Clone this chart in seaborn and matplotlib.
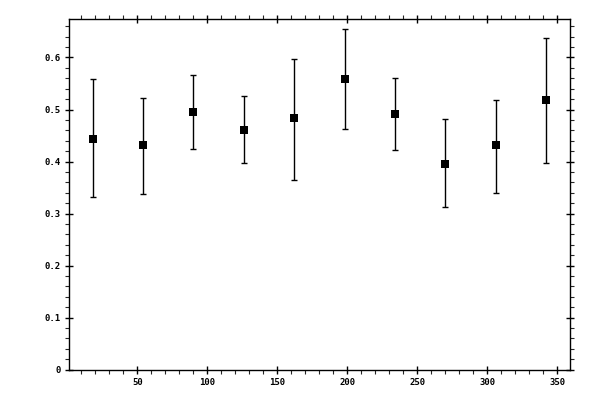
import numpy as np
import pandas as pd
import seaborn as sns
import matplotlib
matplotlib.use("Agg")
import matplotlib.pyplot as plt
from matplotlib.ticker import MultipleLocator

# values
x_pos = [18, 54, 90, 126, 162, 198, 234, 270, 306, 342]
y_mean = [0.444, 0.431, 0.496, 0.461, 0.483, 0.558, 0.492, 0.396, 0.431, 0.519]
y_upper = [0.559, 0.522, 0.567, 0.525, 0.598, 0.655, 0.560, 0.481, 0.519, 0.638]
y_lower = [0.331, 0.337, 0.425, 0.398, 0.365, 0.462, 0.423, 0.312, 0.340, 0.398]

df = pd.DataFrame({"x": x_pos, "y": y_mean, "hi": y_upper, "lo": y_lower})

sns.set_style("ticks")
plt.rcParams["font.family"] = ["DejaVu Sans Mono", "DejaVu Sans"]

fig = plt.figure(figsize=(6, 4), dpi=100)
ax = fig.add_axes([0.1158, 0.0758, 0.8342, 0.8755])

yerr = np.array([df["y"] - df["lo"], df["hi"] - df["y"]])
ax.errorbar(df["x"], df["y"], yerr=yerr, fmt="none", ecolor="black",
            elinewidth=1.0, capsize=2.2, capthick=1.0, zorder=2)
sns.scatterplot(data=df, x="x", y="y", marker="s", s=28, color="black",
                edgecolor="black", linewidth=0, ax=ax, zorder=3)

ax.set_xlim(1.5, 359)
ax.set_ylim(0, 0.673)
ax.set_xlabel("")
ax.set_ylabel("")

ax.xaxis.set_major_locator(MultipleLocator(50))
ax.xaxis.set_minor_locator(MultipleLocator(10))
ax.yaxis.set_major_locator(MultipleLocator(0.1))
ax.yaxis.set_minor_locator(MultipleLocator(0.02))
ax.yaxis.set_major_formatter(plt.FuncFormatter(lambda v, p: "0" if abs(v) < 1e-9 else f"{v:.1f}"))

for s in ax.spines.values():
    s.set_visible(True)
    s.set_linewidth(1.0)
    s.set_color("black")

ax.tick_params(which="major", direction="inout", length=6, width=1.0,
               top=True, right=True, labelsize=6.5, colors="black")
ax.tick_params(axis="x", which="major", pad=3)
ax.tick_params(axis="y", which="major", pad=3.5)
ax.tick_params(which="minor", direction="out", length=3, width=0.8,
               top=True, right=True)
for lab in ax.get_xticklabels() + ax.get_yticklabels():
    lab.set_fontweight("bold")

fig.savefig("out.png", dpi=100)
